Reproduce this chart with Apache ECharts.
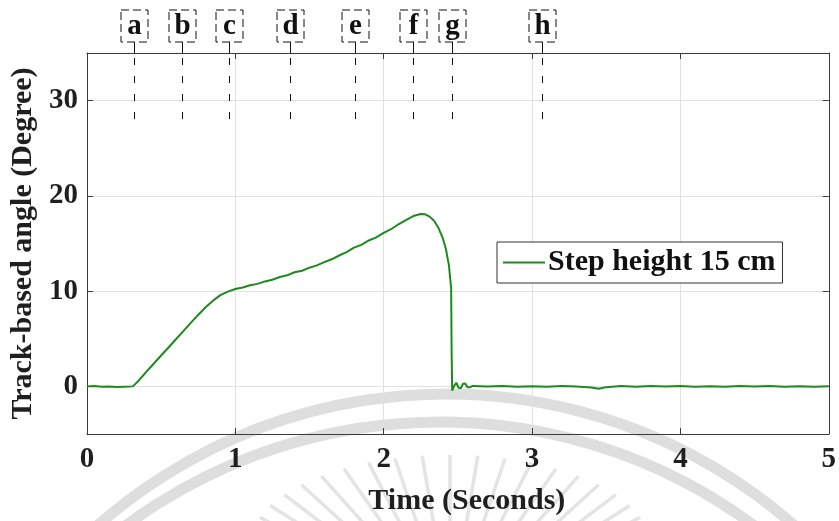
<!DOCTYPE html>
<html>
<head>
<meta charset="utf-8">
<script src="https://cdn.jsdelivr.net/npm/echarts@6/dist/echarts.min.js"></script>
<style>
  html, body { margin: 0; padding: 0; background: #ffffff; }
  #chart { width: 839px; height: 521px; }
</style>
</head>
<body>
<div id="chart"></div>
<script>
// Track-based angle recorded while climbing a 15 cm step
const timeSec = [
  0.00, 0.05, 0.10, 0.15, 0.20, 0.25, 0.31, 0.35, 0.40, 0.45,
  0.50, 0.55, 0.60, 0.65, 0.70, 0.75, 0.80, 0.85, 0.90, 0.95,
  1.00, 1.05, 1.10, 1.15, 1.20, 1.25, 1.30, 1.35, 1.40, 1.45,
  1.50, 1.55, 1.60, 1.65, 1.70, 1.75, 1.80, 1.85, 1.90, 1.95,
  2.00, 2.05, 2.10, 2.15, 2.20, 2.25, 2.28, 2.31, 2.34, 2.37,
  2.40, 2.42, 2.44, 2.455, 2.458, 2.462, 2.475, 2.49, 2.505, 2.52,
  2.535, 2.55, 2.565, 2.58, 2.60, 2.70, 2.80, 2.90, 3.00, 3.10,
  3.20, 3.30, 3.40, 3.45, 3.50, 3.60, 3.70, 3.80, 3.90, 4.00,
  4.10, 4.20, 4.30, 4.40, 4.50, 4.60, 4.70, 4.80, 4.90, 5.00
];
const angleDeg = [
  0.00, 0.03, -0.04, -0.02, -0.07, -0.03, 0.00, 0.62, 1.52, 2.38,
  3.24, 4.08, 4.95, 5.80, 6.66, 7.50, 8.30, 9.00, 9.58, 9.95,
  10.22, 10.38, 10.62, 10.76, 11.02, 11.20, 11.48, 11.66, 11.98, 12.14,
  12.46, 12.70, 13.05, 13.34, 13.74, 14.10, 14.56, 14.86, 15.32, 15.64,
  16.12, 16.50, 17.02, 17.45, 17.88, 18.10, 18.06, 17.82, 17.38, 16.62,
  15.50, 14.40, 12.70, 10.30, 4.00, -0.45, 0.05, 0.38, -0.15, -0.20,
  0.28, 0.30, -0.08, -0.10, 0.05, -0.02, 0.03, -0.04, 0.02, -0.03,
  0.04, -0.02, -0.12, -0.25, -0.08, 0.03, -0.03, 0.05, -0.02, 0.03,
  -0.04, 0.02, -0.05, 0.03, -0.02, 0.04, -0.03, 0.02, -0.04, 0.01
];
const seriesName = 'Step height 15 cm';

// Gait phase markers along the time axis
const eventTimes = [0.32, 0.64, 0.96, 1.37, 1.81, 2.20, 2.46, 3.07];
const eventLabels = ['a', 'b', 'c', 'd', 'e', 'f', 'g', 'h'];
const eventLineEnd = 28;

// Axis ranges and tick values
const xMin = 0, xMax = 5, xStep = 1;
const yMin = -5, yMax = 35;
const yTickValues = [0, 10, 20, 30];

const FONT = '"Liberation Serif", "Times New Roman", serif';
const TXT = '#1f1f1f';
const AXIS = '#3a3a3a';
const GRIDC = '#e0e0e0';

const chart = echarts.init(document.getElementById('chart'), null, { renderer: 'canvas' });

// Faint seal in the background: two rings and a fan of rays
const seal = [];
seal.push({ type: 'arc', z: -10, silent: true,
  shape: { cx: 446, cy: 921, r: 527, startAngle: -Math.PI * 0.8, endAngle: -Math.PI * 0.2 },
  style: { fill: 'none', stroke: '#dedede', lineWidth: 11 } });
seal.push({ type: 'arc', z: -10, silent: true,
  shape: { cx: 440, cy: 950, r: 528, startAngle: -Math.PI * 0.8, endAngle: -Math.PI * 0.2 },
  style: { fill: 'none', stroke: '#dedede', lineWidth: 11 } });
for (let a = -162; a <= -18; a += 8) {
  const th = a * Math.PI / 180;
  const tx = 450 + 200 * Math.cos(th), ty = 545 + 90 * Math.sin(th);
  const dx = 450 - tx, dy = 620 - ty, len = Math.hypot(dx, dy);
  seal.push({ type: 'line', z: -10, silent: true,
    shape: { x1: tx, y1: ty, x2: tx + dx / len * 110, y2: ty + dy / len * 110 },
    style: { stroke: '#e4e4e4', lineWidth: 3.5 } });
}

const labelStyle = { fontFamily: FONT, fontWeight: 'bold', fontSize: 29, color: TXT };

chart.setOption({
  animation: false,
  backgroundColor: '#ffffff',
  graphic: { elements: seal },
  grid: { left: 84, right: 10, top: 53, bottom: 84, containLabel: false },
  legend: {
    data: [seriesName],
    left: 497, top: 242,
    orient: 'horizontal',
    backgroundColor: '#ffffff',
    borderColor: '#333333',
    borderWidth: 1,
    borderRadius: 0,
    padding: [4, 7, 4, 6],
    itemWidth: 42, itemHeight: 2,
    icon: 'rect',
    itemGap: 0,
    textStyle: { fontFamily: FONT, fontWeight: 'bold', fontSize: 30, color: '#111111', lineHeight: 33, padding: [0, 0, 0, -2] }
  },
  xAxis: [
    {
      type: 'value', min: xMin, max: xMax, interval: xStep,
      name: 'Time (Seconds)', nameLocation: 'middle', nameGap: 52,
      nameTextStyle: { fontFamily: FONT, fontWeight: 'bold', fontSize: 30, color: TXT, padding: [0, 0, 0, 18] },
      axisLine: { show: true, onZero: false, lineStyle: { color: AXIS, width: 1 } },
      axisTick: { show: true, inside: true, length: 6, lineStyle: { color: AXIS } },
      axisLabel: Object.assign({ margin: 11 }, labelStyle),
      splitLine: { show: true, lineStyle: { color: GRIDC, width: 1 } }
    },
    {
      type: 'value', min: xMin, max: xMax, interval: xStep, position: 'top',
      axisLine: { show: true, onZero: false, lineStyle: { color: AXIS, width: 1 } },
      axisTick: { show: true, inside: true, length: 6, lineStyle: { color: AXIS } },
      axisLabel: { show: false },
      splitLine: { show: false }
    }
  ],
  yAxis: [
    {
      type: 'value', min: yMin, max: yMax,
      name: 'Track-based angle (Degree)', nameLocation: 'middle', nameGap: 44,
      nameTextStyle: { fontFamily: FONT, fontWeight: 'bold', fontSize: 30, color: TXT },
      axisLine: { show: true, onZero: false, lineStyle: { color: AXIS, width: 1 } },
      axisTick: { show: true, inside: true, length: 6, customValues: yTickValues, lineStyle: { color: AXIS } },
      axisLabel: Object.assign({ margin: 9, customValues: yTickValues }, labelStyle),
      splitLine: { show: true, lineStyle: { color: GRIDC, width: 1 } }
    },
    {
      type: 'value', min: yMin, max: yMax, position: 'right',
      axisLine: { show: true, onZero: false, lineStyle: { color: AXIS, width: 1 } },
      axisTick: { show: true, inside: true, length: 6, customValues: yTickValues, lineStyle: { color: AXIS } },
      axisLabel: { show: false },
      splitLine: { show: false }
    }
  ],
  series: [
    {
      name: seriesName,
      type: 'line',
      xAxisIndex: 0, yAxisIndex: 0,
      data: timeSec.map((t, i) => [t, angleDeg[i]]),
      showSymbol: false,
      smooth: false,
      lineStyle: { color: '#1e8a1e', width: 2 },
      itemStyle: { color: '#1e8a1e' },
      z: 5
    },
    {
      name: 'phases',
      type: 'custom',
      xAxisIndex: 0, yAxisIndex: 0,
      clip: false,
      silent: true,
      data: eventTimes.map(t => [t, yMax]),
      renderItem: function (params, api) {
        const t = api.value(0);
        const top = api.coord([t, yMax]);
        const end = api.coord([t, eventLineEnd]);
        const x = Math.round(top[0]) + 0.5;
        const y0 = top[1];
        const w = 27, h = 32;
        const boxBottom = y0 - 11;
        return {
          type: 'group',
          children: [
            { type: 'rect',
              shape: { x: x - w / 2, y: boxBottom - h, width: w, height: h },
              style: { fill: '#ffffff', stroke: '#111111', lineWidth: 1, lineDash: [8, 4] } },
            { type: 'text',
              style: { text: eventLabels[params.dataIndex], x: x, y: boxBottom - h / 2 + 1,
                align: 'center', verticalAlign: 'middle',
                font: 'bold 29px ' + FONT, fill: '#111111' } },
            { type: 'line',
              shape: { x1: x, y1: boxBottom, x2: x, y2: y0 },
              style: { stroke: '#111111', lineWidth: 1 } },
            { type: 'line',
              shape: { x1: x, y1: y0, x2: x, y2: end[1] },
              style: { stroke: '#111111', lineWidth: 1, lineDash: [7, 11], lineDashOffset: 13 } }
          ]
        };
      },
      z: 6
    }
  ]
});
</script>
</body>
</html>
